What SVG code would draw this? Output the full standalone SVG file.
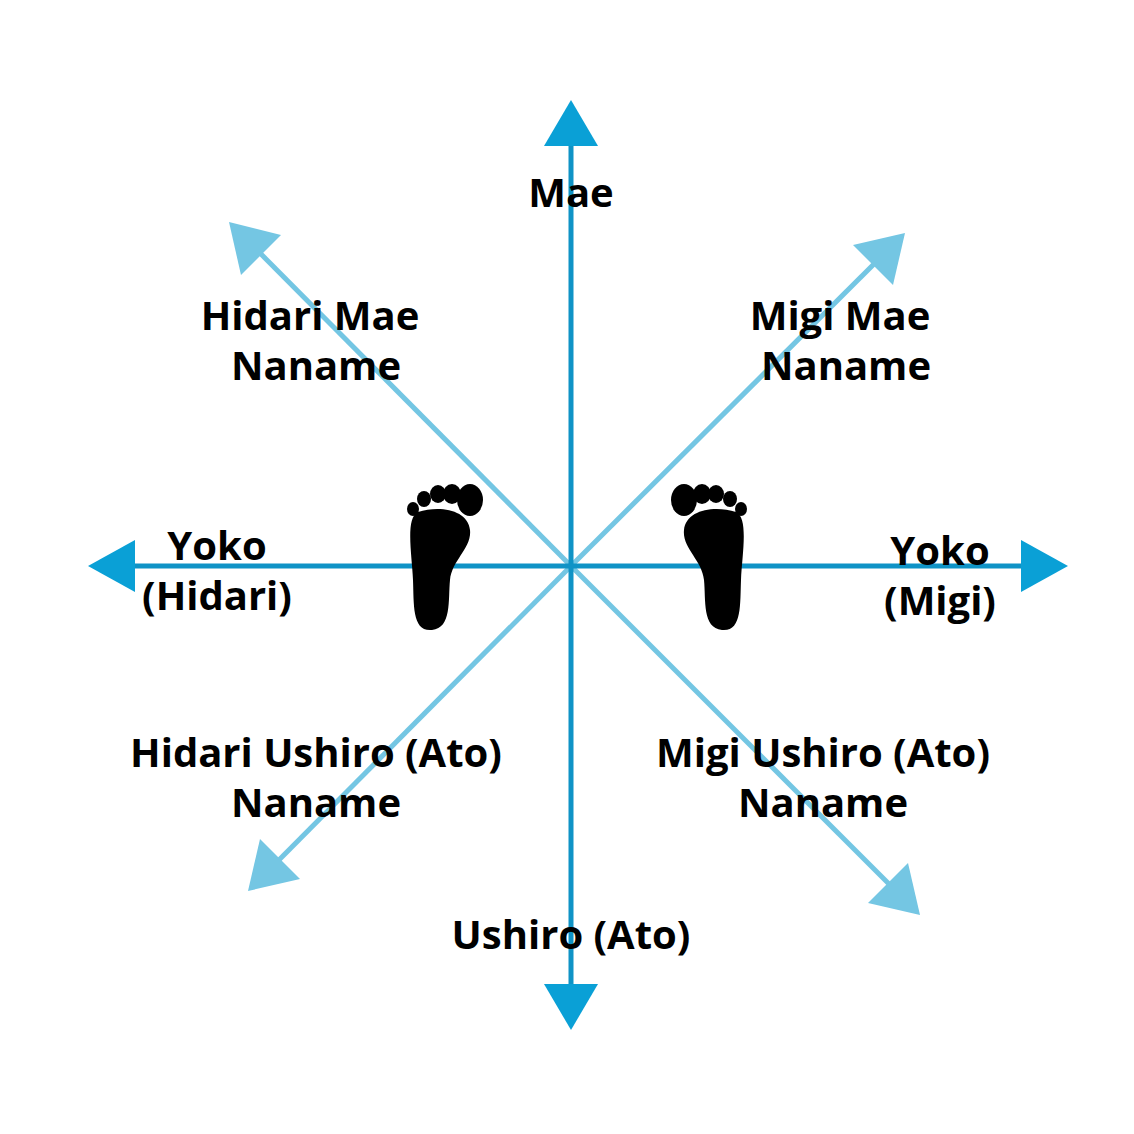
<svg xmlns="http://www.w3.org/2000/svg" width="1134" height="1134" viewBox="0 0 1134 1134">
<style>
.ax{stroke:#0f93c6;stroke-width:5;fill:none}
.dg{stroke:#74c6e3;stroke-width:5;fill:none}
.ha{fill:#0aa0d6}
.hd{fill:#74c6e3}
text{font-family:"Open Sans","Liberation Sans",sans-serif;font-weight:bold;font-size:40px;fill:#000;text-anchor:middle}
.foot{fill:#000}
</style>
<rect width="1134" height="1134" fill="#fff"/>
<g id="connectors">
<line class="dg" x1="571" y1="566" x2="255" y2="248"/>
<line class="dg" x1="571" y1="566" x2="895" y2="890"/>
<line class="dg" x1="571" y1="566" x2="880" y2="258"/>
<line class="dg" x1="571" y1="566" x2="273" y2="866"/>
<line class="ax" x1="571" y1="140" x2="571" y2="990"/>
<line class="ax" x1="130" y1="566" x2="1026" y2="566"/>
<polygon class="ha" points="571,100 544,146 598,146"/>
<polygon class="ha" points="571,1030 544,984 598,984"/>
<polygon class="ha" points="88,566 135,540 135,592"/>
<polygon class="ha" points="1068,566 1021,540 1021,592"/>
<polygon class="hd" points="229,222 241,275 281,235"/>
<polygon class="hd" points="920,915 868,903 908,863"/>
<polygon class="hd" points="905,233 853,245 893,285"/>
<polygon class="hd" points="248,891 260,839 300,879"/>
</g>
<g id="foot-left" class="foot">
<path d="M418,512 C440,505 468,510 470,530 C472,548 452,560 450,580 C448,600 452,628 432,630 C412,632 414,605 413,580 C412,555 405,518 418,512 Z"/>
<ellipse cx="470" cy="500" rx="13" ry="16"/>
<ellipse cx="452" cy="494" rx="9" ry="10"/>
<ellipse cx="438" cy="494" rx="8" ry="9"/>
<ellipse cx="424" cy="499" rx="7" ry="8"/>
<ellipse cx="413" cy="509" rx="6" ry="7"/>
</g>
<g id="foot-right" class="foot" transform="translate(1154,0) scale(-1,1)">
<path d="M418,512 C440,505 468,510 470,530 C472,548 452,560 450,580 C448,600 452,628 432,630 C412,632 414,605 413,580 C412,555 405,518 418,512 Z"/>
<ellipse cx="470" cy="500" rx="13" ry="16"/>
<ellipse cx="452" cy="494" rx="9" ry="10"/>
<ellipse cx="438" cy="494" rx="8" ry="9"/>
<ellipse cx="424" cy="499" rx="7" ry="8"/>
<ellipse cx="413" cy="509" rx="6" ry="7"/>
</g>
<g id="mae"><text x="571" y="207">Mae</text></g>
<g id="hidari-mae"><text x="310" y="330">Hidari Mae</text><text x="316" y="380">Naname</text></g>
<g id="migi-mae"><text x="840" y="330">Migi Mae</text><text x="846" y="380">Naname</text></g>
<g id="yoko-hidari"><text x="217" y="560">Yoko</text><text x="217" y="610">(Hidari)</text></g>
<g id="yoko-migi"><text x="940" y="565">Yoko</text><text x="940" y="615">(Migi)</text></g>
<g id="hidari-ushiro"><text x="316" y="767">Hidari Ushiro (Ato)</text><text x="316" y="817">Naname</text></g>
<g id="migi-ushiro"><text x="823" y="767">Migi Ushiro (Ato)</text><text x="823" y="817">Naname</text></g>
<g id="ushiro"><text x="571" y="949">Ushiro (Ato)</text></g>
</svg>
